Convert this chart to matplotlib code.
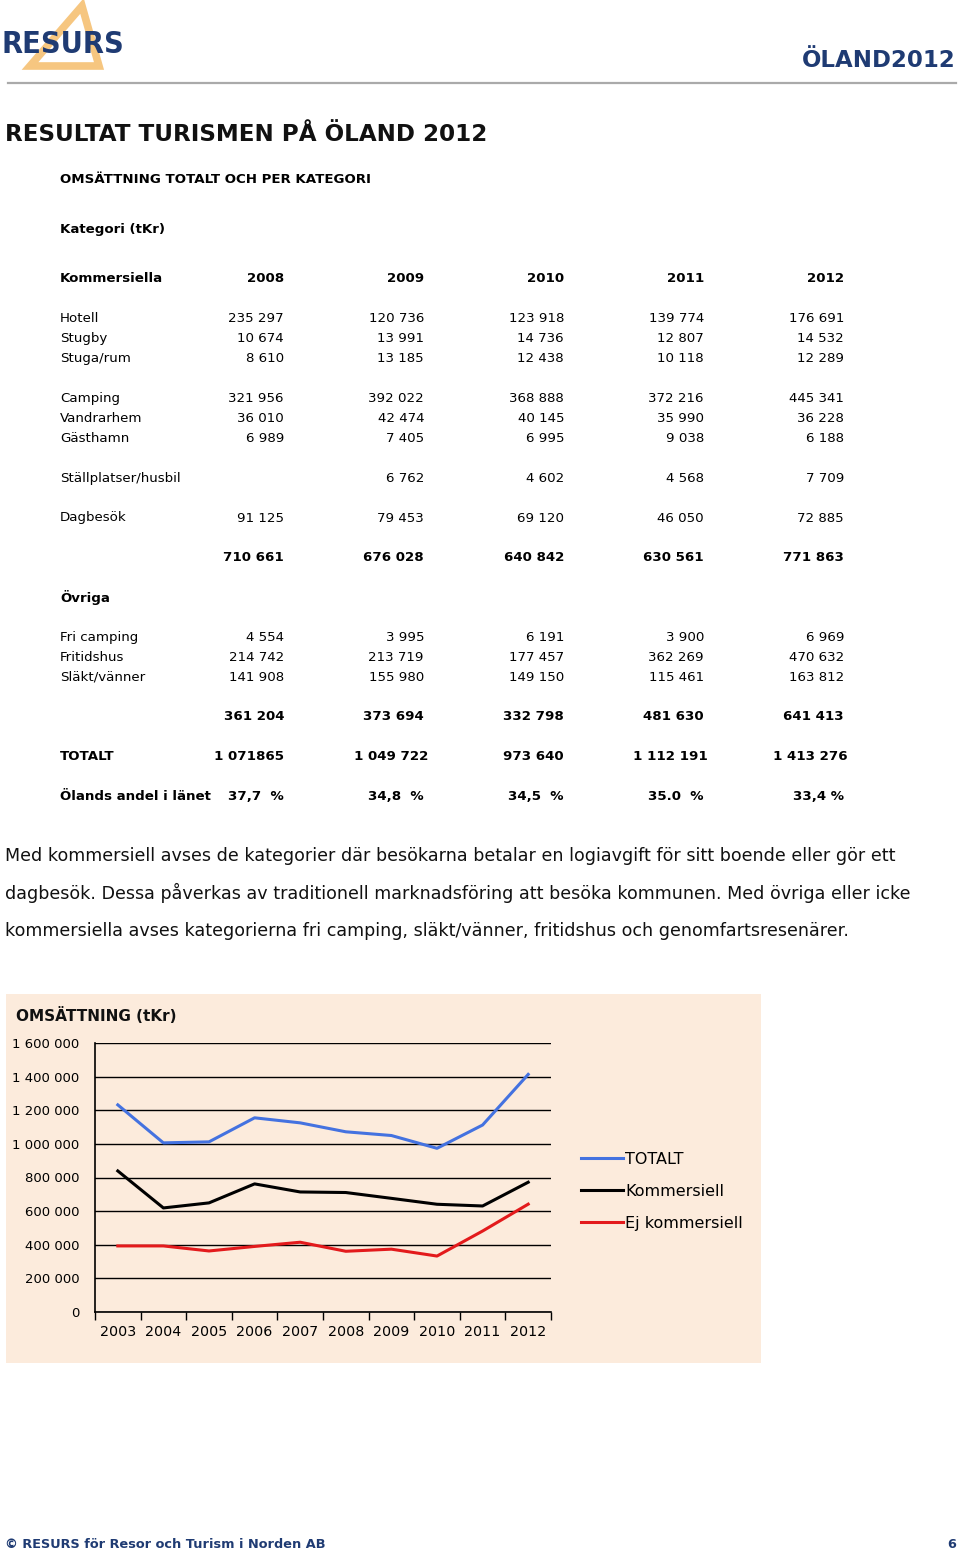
import matplotlib
matplotlib.use("Agg")
import matplotlib.pyplot as plt
from matplotlib.patches import Polygon, Rectangle
from matplotlib.ticker import FuncFormatter, MultipleLocator

plt.rcParams["font.family"] = ["DejaVu Sans"]

# ── table data ───────────────────────────────────────────────────────────────
table_years = [2008, 2009, 2010, 2011, 2012]

komm_labels = ["Hotell", "Stugby", "Stuga/rum",
               "Camping", "Vandrarhem", "Gästhamn",
               "Ställplatser/husbil", "Dagbesök"]
komm_values = [
    [235297, 120736, 123918, 139774, 176691],
    [10674, 13991, 14736, 12807, 14532],
    [8610, 13185, 12438, 10118, 12289],
    [321956, 392022, 368888, 372216, 445341],
    [36010, 42474, 40145, 35990, 36228],
    [6989, 7405, 6995, 9038, 6188],
    [None, 6762, 4602, 4568, 7709],
    [91125, 79453, 69120, 46050, 72885],
]
komm_sum = [710661, 676028, 640842, 630561, 771863]

ovr_labels = ["Fri camping", "Fritidshus", "Släkt/vänner"]
ovr_values = [
    [4554, 3995, 6191, 3900, 6969],
    [214742, 213719, 177457, 362269, 470632],
    [141908, 155980, 149150, 115461, 163812],
]
ovr_sum = [361204, 373694, 332798, 481630, 641413]

totalt_text = ["1 071865", "1 049 722", "973 640", "1 112 191", "1 413 276"]
andel_text = ["37,7  %", "34,8  %", "34,5  %", "35.0  %", "33,4 %"]

# ── chart data ───────────────────────────────────────────────────────────────
years = ["2003", "2004", "2005", "2006", "2007",
         "2008", "2009", "2010", "2011", "2012"]
totalt = [1232000, 1006000, 1012000, 1155000, 1125000,
          1071865, 1049722, 973640, 1112191, 1413276]
kommersiell = [839000, 619000, 649000, 762000, 714000,
               710661, 676028, 640842, 630561, 771863]
ej_kommersiell = [393000, 393000, 363000, 390000, 415000,
                  361204, 373694, 332798, 481630, 641413]

NAVY = "#1f3b73"
W, H = 960, 1556


def fmt(v):
    return "" if v is None else f"{v:,}".replace(",", " ")


fig = plt.figure(figsize=(W / 100, H / 100), dpi=100)
page = fig.add_axes([0, 0, 1, 1])
page.set_xlim(0, W)
page.set_ylim(H, 0)
page.axis("off")

# ── header ───────────────────────────────────────────────────────────────────
page.add_patch(Polygon([(30, 66), (82, 6), (99, 66)], closed=True,
                       fill=False, edgecolor="#f6c680", linewidth=5.5,
                       joinstyle="miter"))
page.text(2, 44, "RESURS", fontsize=22, fontweight="bold", color=NAVY,
          va="center", ha="left", fontstretch="condensed")
page.text(956, 60, "ÖLAND2012", fontsize=16.5, fontweight="bold", color=NAVY,
          va="center", ha="right")
page.plot([8, 956], [83, 83], color="#aaaaaa", linewidth=1.6)

page.text(5, 134, "RESULTAT TURISMEN PÅ ÖLAND 2012", fontsize=16.6,
          fontweight="bold", color="#111111", va="center")

# ── table ────────────────────────────────────────────────────────────────────
fs = 9.6
col_x = [284, 424, 564, 704, 844]
lx = 60

page.text(lx, 179, "OMSÄTTNING TOTALT OCH PER KATEGORI", fontsize=fs,
          fontweight="bold", va="center")
page.text(lx, 229, "Kategori (tKr)", fontsize=fs, fontweight="bold",
          va="center")
page.text(lx, 278, "Kommersiella", fontsize=fs, fontweight="bold",
          va="center")
for x, yr in zip(col_x, table_years):
    page.text(x, 278, str(yr), fontsize=fs, fontweight="bold",
              ha="right", va="center")

komm_y = [318, 338, 358, 398, 418, 438, 478, 518]
for y, lab, vals in zip(komm_y, komm_labels, komm_values):
    page.text(lx, y, lab, fontsize=fs, va="center")
    for x, v in zip(col_x, vals):
        page.text(x, y, fmt(v), fontsize=fs, ha="right", va="center")
for x, v in zip(col_x, komm_sum):
    page.text(x, 557, fmt(v), fontsize=fs, fontweight="bold",
              ha="right", va="center")

page.text(lx, 597, "Övriga", fontsize=fs, fontweight="bold", va="center")
ovr_y = [637, 657, 677]
for y, lab, vals in zip(ovr_y, ovr_labels, ovr_values):
    page.text(lx, y, lab, fontsize=fs, va="center")
    for x, v in zip(col_x, vals):
        page.text(x, y, fmt(v), fontsize=fs, ha="right", va="center")
for x, v in zip(col_x, ovr_sum):
    page.text(x, 716, fmt(v), fontsize=fs, fontweight="bold",
              ha="right", va="center")

page.text(lx, 756, "TOTALT", fontsize=fs, fontweight="bold", va="center")
for x, s in zip([284, 428, 564, 708, 848], totalt_text):
    page.text(x, 756, s, fontsize=fs, fontweight="bold",
              ha="right", va="center")
page.text(lx, 796, "Ölands andel i länet", fontsize=fs, fontweight="bold",
          va="center")
for x, s in zip(col_x, andel_text):
    page.text(x, 796, s, fontsize=fs, fontweight="bold",
              ha="right", va="center")

# ── paragraph ────────────────────────────────────────────────────────────────
para = [
    "Med kommersiell avses de kategorier där besökarna betalar en logiavgift för sitt boende eller gör ett",
    "dagbesök. Dessa påverkas av traditionell marknadsföring att besöka kommunen. Med övriga eller icke",
    "kommersiella avses kategorierna fri camping, släkt/vänner, fritidshus och genomfartsresenärer.",
]
for y, line in zip([856, 893, 931], para):
    page.text(5, y, line, fontsize=12.6, va="center", color="#111111")

# ── chart ────────────────────────────────────────────────────────────────────
page.add_patch(Rectangle((6, 994), 755, 369, facecolor="#fcebdc",
                         edgecolor="none"))
page.text(16, 1015, "OMSÄTTNING (tKr)", fontsize=11, fontweight="bold",
          va="center", color="#111111")

ax = fig.add_axes([95 / W, 1 - 1312 / H, (551 - 95) / W, (1312 - 1043) / H])
ax.patch.set_alpha(0)
x = range(len(years))
ax.plot(x, totalt, color="#4472e0", linewidth=2.2, label="TOTALT")
ax.plot(x, kommersiell, color="black", linewidth=2.2, label="Kommersiell")
ax.plot(x, ej_kommersiell, color="#e31a1c", linewidth=2.2,
        label="Ej kommersiell")
ax.set_xlim(-0.5, len(years) - 0.5)
ax.set_ylim(0, 1600000)
ax.yaxis.set_major_locator(MultipleLocator(200000))
ax.yaxis.set_major_formatter(FuncFormatter(lambda v, p: fmt(int(v))))
ax.grid(axis="y", color="black", linewidth=1)
ax.set_axisbelow(True)
ax.set_xticks(list(x))
ax.set_xticklabels(years)
ax.set_xticks([i - 0.5 for i in range(len(years) + 1)], minor=True)
ax.tick_params(axis="x", which="major", length=0, pad=9, labelsize=10.3)
ax.tick_params(axis="x", which="minor", length=6, width=1, direction="out")
ax.tick_params(axis="y", length=0, pad=11, labelsize=9.5)
for s in ["top", "right"]:
    ax.spines[s].set_visible(False)
for s in ["left", "bottom"]:
    ax.spines[s].set_linewidth(1.2)

ax.legend(loc="upper left", bbox_to_anchor=(581 / W, 1 - 1152 / H),
          bbox_transform=fig.transFigure, frameon=False, fontsize=11.5,
          handlelength=2.6, handletextpad=0.15, labelspacing=1.05,
          borderpad=0, borderaxespad=0)

# ── footer ───────────────────────────────────────────────────────────────────
page.text(5, 1544, "© RESURS för Resor och Turism i Norden AB", fontsize=9.3,
          fontweight="bold", color=NAVY, va="center")
page.text(956, 1544, "6", fontsize=9.3, fontweight="bold", color=NAVY,
          va="center", ha="right")

fig.savefig("out.png", dpi=100)
